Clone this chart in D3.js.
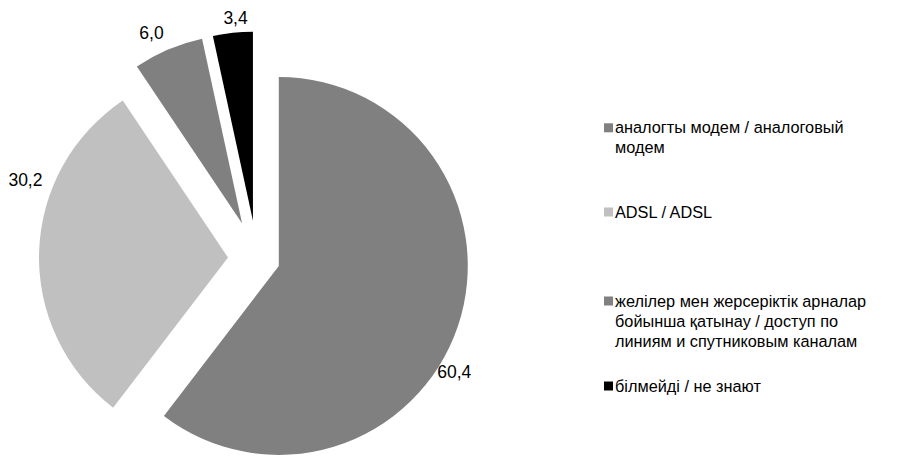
<!DOCTYPE html>
<html>
<head>
<meta charset="utf-8">
<script src="https://cdn.jsdelivr.net/npm/d3@7"></script>
<style>
  html, body { margin: 0; padding: 0; background: #ffffff; }
  svg { display: block; font-family: "Liberation Sans", Arial, sans-serif; }
</style>
</head>
<body>
<svg id="chart" width="898" height="457"></svg>
<script>
// ---- data ----
const categories = [
  "аналогты модем / аналоговый модем",
  "ADSL / ADSL",
  "желілер мен жерсеріктік арналар бойынша қатынау / доступ по линиям и спутниковым каналам",
  "білмейді / не знают"
];
const legendLines = [
  ["аналогты модем / аналоговый", "модем"],
  ["ADSL / ADSL"],
  ["желілер мен жерсеріктік арналар", "бойынша қатынау / доступ по", "линиям и спутниковым каналам"],
  ["білмейді / не знают"]
];
const values = [60.4, 30.2, 6.0, 3.4];
const valueLabels = ["60,4", "30,2", "6,0", "3,4"];
const colors = ["#808080", "#c0c0c0", "#808080", "#000000"];

// ---- layout ----
const svg = d3.select("#chart");
const cx = 257, cy = 258.5, R = 189;
const explode = [23, 29, 38, 38];
const labelAngleShift = [12.4, 19.2, -2.4, 1.2]; // degrees
const labelDist = [205, 217, 211, 203];

const pie = d3.pie().sort(null).value(d => d).startAngle(0).endAngle(2 * Math.PI);
const arcs = pie(values);
const arc = d3.arc().innerRadius(0).outerRadius(R);

const g = svg.append("g").attr("transform", `translate(${cx},${cy})`);

arcs.forEach((a, i) => {
  const mid = (a.startAngle + a.endAngle) / 2;
  const ox = explode[i] * Math.sin(mid), oy = -explode[i] * Math.cos(mid);
  const sg = g.append("g").attr("transform", `translate(${ox},${oy})`);
  sg.append("path").attr("d", arc(a)).attr("fill", colors[i]);
  const la = mid + labelAngleShift[i] * Math.PI / 180;
  sg.append("text")
    .attr("x", labelDist[i] * Math.sin(la))
    .attr("y", -labelDist[i] * Math.cos(la))
    .attr("text-anchor", "middle")
    .attr("dominant-baseline", "central")
    .attr("font-size", 17.5)
    .attr("fill", "#000")
    .text(valueLabels[i]);
});

// ---- legend ----
const legendBaselines = [133.3, 217.5, 306.5, 391.5];
const lineH = 20;
const lg = svg.append("g");
categories.forEach((c, i) => {
  const yb = legendBaselines[i];
  lg.append("rect")
    .attr("x", 604).attr("y", yb - 10)
    .attr("width", 9).attr("height", 9)
    .attr("fill", colors[i]);
  const t = lg.append("text")
    .attr("x", 615).attr("y", yb)
    .attr("font-size", 16.3)
    .attr("fill", "#000");
  legendLines[i].forEach((line, j) => {
    t.append("tspan").attr("x", 615).attr("y", yb + j * lineH).text(line);
  });
});
</script>
</body>
</html>
